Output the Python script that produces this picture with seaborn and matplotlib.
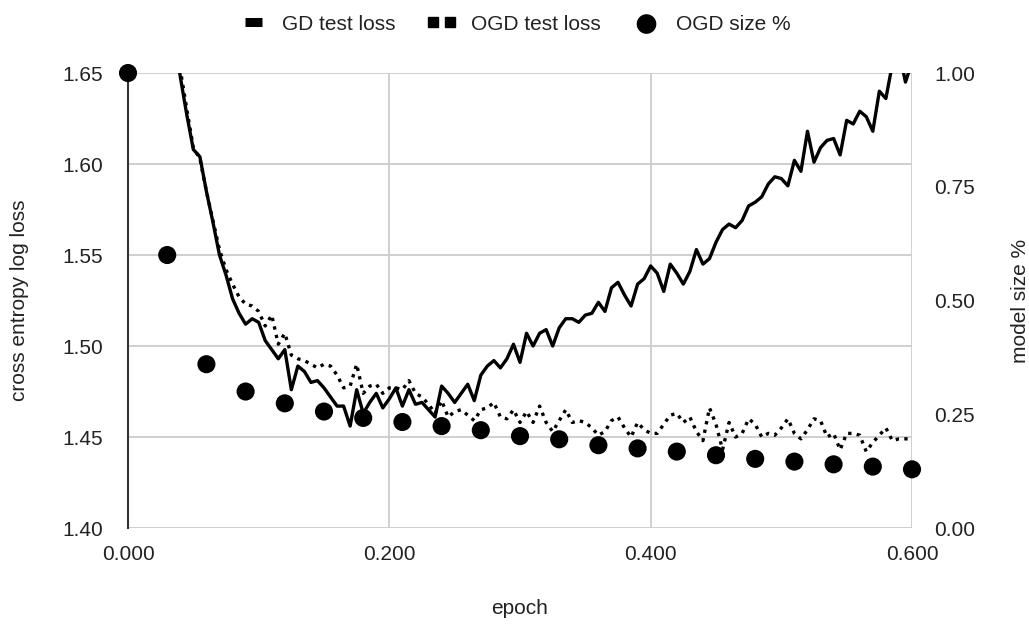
import numpy as np
import pandas as pd
import matplotlib
matplotlib.use("Agg")
import matplotlib.pyplot as plt
from matplotlib.lines import Line2D
import seaborn as sns

# epoch grid of the loss curves (step 0.005)
epoch = np.round(np.arange(121) * 0.005, 3)

gd_loss = [2.30, 2.15, 2.02, 1.92, 1.84, 1.77, 1.72, 1.675, 1.648, 1.627,
           1.608, 1.604, 1.585, 1.568, 1.550, 1.539, 1.526, 1.518, 1.512, 1.515,
           1.513, 1.503, 1.498, 1.493, 1.498, 1.476, 1.489, 1.486, 1.480, 1.481,
           1.477, 1.472, 1.467, 1.467, 1.456, 1.476, 1.463, 1.469, 1.474, 1.466,
           1.471, 1.477, 1.467, 1.476, 1.468, 1.469, 1.465, 1.461, 1.478, 1.474,
           1.469, 1.474, 1.479, 1.470, 1.484, 1.489, 1.492, 1.488, 1.493, 1.501,
           1.491, 1.507, 1.500, 1.507, 1.509, 1.500, 1.510, 1.515, 1.515, 1.513,
           1.517, 1.518, 1.524, 1.519, 1.532, 1.535, 1.528, 1.522, 1.534, 1.537,
           1.544, 1.540, 1.530, 1.545, 1.540, 1.534, 1.541, 1.553, 1.545, 1.548,
           1.557, 1.564, 1.567, 1.565, 1.569, 1.577, 1.579, 1.582, 1.589, 1.593,
           1.592, 1.588, 1.602, 1.596, 1.618, 1.601, 1.609, 1.613, 1.614, 1.605,
           1.624, 1.622, 1.629, 1.626, 1.618, 1.640, 1.636, 1.655, 1.662, 1.645,
           1.656]

ogd_loss = [2.31, 2.16, 2.03, 1.93, 1.85, 1.78, 1.725, 1.68, 1.652, 1.630,
            1.609, 1.603, 1.585, 1.569, 1.553, 1.542, 1.534, 1.527, 1.523, 1.522,
            1.519, 1.511, 1.517, 1.501, 1.507, 1.495, 1.493, 1.492, 1.490, 1.488,
            1.490, 1.489, 1.484, 1.477, 1.478, 1.490, 1.474, 1.478, 1.479, 1.474,
            1.477, 1.477, 1.476, 1.481, 1.474, 1.472, 1.468, 1.463, 1.470, 1.461,
            1.464, 1.465, 1.462, 1.459, 1.465, 1.466, 1.469, 1.461, 1.460, 1.465,
            1.458, 1.464, 1.458, 1.467, 1.458, 1.453, 1.459, 1.465, 1.458, 1.459,
            1.458, 1.455, 1.451, 1.453, 1.459, 1.461, 1.455, 1.450, 1.458, 1.454,
            1.452, 1.452, 1.457, 1.462, 1.463, 1.458, 1.461, 1.453, 1.448, 1.466,
            1.457, 1.443, 1.458, 1.450, 1.452, 1.460, 1.457, 1.450, 1.452, 1.451,
            1.455, 1.460, 1.452, 1.449, 1.454, 1.460, 1.459, 1.450, 1.452, 1.443,
            1.452, 1.452, 1.451, 1.442, 1.447, 1.451, 1.455, 1.448, 1.449, 1.449,
            1.449]

size_epoch = [0.00, 0.03, 0.06, 0.09, 0.12, 0.15, 0.18, 0.21, 0.24, 0.27, 0.30,
              0.33, 0.36, 0.39, 0.42, 0.45, 0.48, 0.51, 0.54, 0.57, 0.60]
ogd_size = [1.00, 0.60, 0.36, 0.30, 0.274, 0.256, 0.242, 0.233, 0.224, 0.215, 0.202,
            0.195, 0.182, 0.175, 0.168, 0.160, 0.152, 0.146, 0.140, 0.135, 0.129]

loss_df = pd.DataFrame({"epoch": epoch, "gd": gd_loss, "ogd": ogd_loss})
size_df = pd.DataFrame({"epoch": size_epoch, "size": ogd_size})

sns.set_style("white")
plt.rcParams['font.family'] = ['Liberation Sans', 'DejaVu Sans']
FS = 15
TXT = "#222222"

fig = plt.figure(figsize=(10.29, 6.24), dpi=100)
ax = fig.add_axes([0.1244, 0.1538, 0.7619, 0.7292])

sns.lineplot(data=loss_df, x="epoch", y="gd", ax=ax, color="black", lw=2.4)
sns.lineplot(data=loss_df, x="epoch", y="ogd", ax=ax, color="black", lw=2.4,
             dashes=False, linestyle=(0, (1.0, 1.6)))

ax.set_xlim(0, 0.6)
ax.set_ylim(1.40, 1.65)
ax.set_xticks([0, 0.2, 0.4, 0.6])
ax.set_xticklabels(["0.000", "0.200", "0.400", "0.600"])
ax.set_yticks([1.40, 1.45, 1.50, 1.55, 1.60, 1.65])
ax.set_yticklabels(["1.40", "1.45", "1.50", "1.55", "1.60", "1.65"])
ax.grid(True, color="#cccccc", lw=1.3)
ax.set_axisbelow(True)
for s in ["top", "right", "bottom"]:
    ax.spines[s].set_visible(False)
ax.spines["left"].set_color("#333333")
ax.spines["left"].set_linewidth(1.5)
ax.tick_params(axis="both", length=0, labelsize=FS, colors=TXT)
ax.tick_params(axis="y", pad=18)
ax.tick_params(axis="x", pad=12)
ax.set_xlabel("epoch", fontsize=FS, color=TXT)
ax.xaxis.set_label_coords(0.5, -0.1758)
ax.xaxis.label.set_va("center")
ax.set_ylabel("cross entropy log loss", fontsize=FS, color=TXT)
ax.yaxis.set_label_coords(-0.138, 0.5)
ax.yaxis.label.set_va("center")

ax2 = ax.twinx()
sns.scatterplot(data=size_df, x="epoch", y="size", ax=ax2, color="black",
                s=170, edgecolor="none", clip_on=False, zorder=5)
ax2.set_ylim(0, 1.0)
ax2.set_yticks([0, 0.25, 0.5, 0.75, 1.0])
ax2.set_yticklabels(["0.00", "0.25", "0.50", "0.75", "1.00"])
ax2.grid(False)
for s in ax2.spines.values():
    s.set_visible(False)
ax2.tick_params(axis="y", length=0, labelsize=FS, colors=TXT, pad=16)
ax2.set_ylabel("model size %", fontsize=FS, color=TXT)
ax2.yaxis.set_label_coords(1.138, 0.5)
ax2.yaxis.label.set_va("center")
ax2.set_xlabel("")

h1 = Line2D([], [], color="black", lw=6.5, solid_capstyle="butt")
h2 = Line2D([], [], color="black", ls="none", marker="s", markersize=6.5)
h3 = ax2.scatter([], [], s=200, color="black", edgecolor="none")
fig.legend([h1, h2, h3], ["GD test loss", "OGD test loss", "OGD size %"],
           loc="center", bbox_to_anchor=(0.5, 1 - 24 / 624), ncol=3, frameon=False,
           fontsize=FS, handlelength=1.4, numpoints=2, scatterpoints=1,
           columnspacing=1.5, handletextpad=0.7, labelcolor=TXT)

fig.savefig("out.png", dpi=100)
